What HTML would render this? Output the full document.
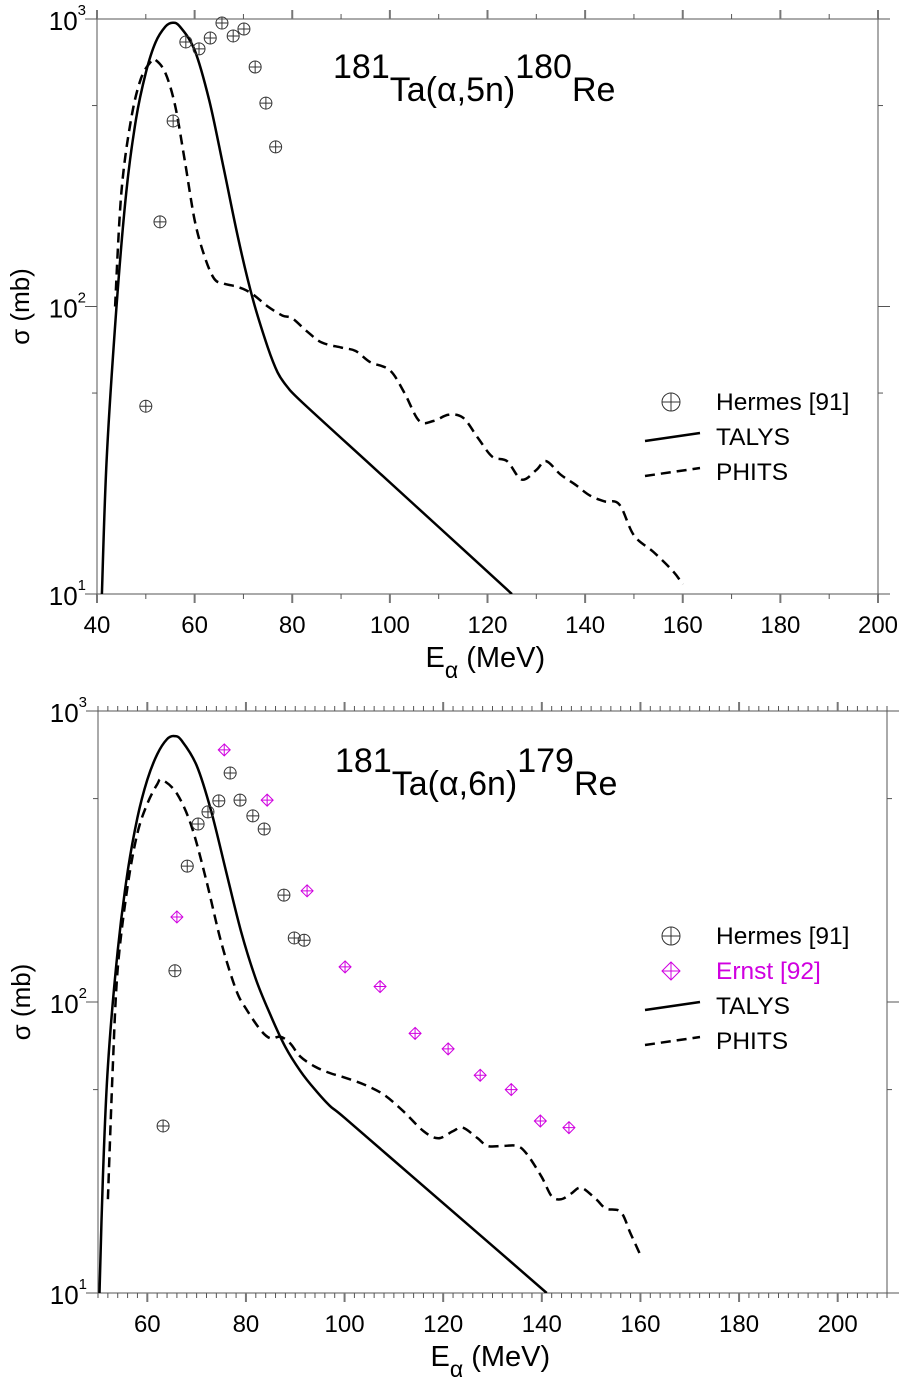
<!DOCTYPE html>
<html><head><meta charset="utf-8"><style>
body{margin:0;background:#fff}
svg text{font-family:"Liberation Sans",sans-serif;fill:#000}
</style></head><body>
<svg id="c" width="900" height="1382" xmlns="http://www.w3.org/2000/svg"></svg>
<script>
// ---- Top panel data: 181Ta(a,5n)180Re ----
const topHermesE=[50.0,52.9,55.6,58.2,60.9,63.2,65.6,67.9,70.1,72.4,74.6,76.6];
const topHermesS=[45,197,442,832,787,859,968,873,923,681,510,359];
const topTalysE=[41,42,44,46,48,50,52,54,55.5,57,60,63,66,69,72,75,77,79,82,95,110,125];
const topTalysS=[10,30,100,250,450,650,830,940,970,940,780,520,300,170,105,72,59,52.5,46.5,29.2,17.1,10];
const topPhitsE=[43.7,45,47,49,51,52,54,56,58,60,62,64,66,68,70,72,75,78,80,83,86,90,93,96,100,103,106,109,112,115,118,121,124,127,130,132,135,138,141,144,147,150,154,158,160];
const topPhitsS=[100,250,450,620,710,720,650,500,320,200,150,125,120,118,115,110,100,93,91,82,75,72,70,64,60,50,40,40,42,41,35,30,29,25,27,29,26,24,22,21,20.5,16,14,12,10.8];
const topXTicks=[40,60,80,100,120,140,160,180,200];
// ---- Bottom panel data: 181Ta(a,6n)179Re ----
const botHermesE=[63.2,65.6,68.1,70.3,72.3,74.5,76.8,78.8,81.4,83.7,87.7,89.8,91.8];
const botHermesS=[37.5,128,293,409,450,491,612,494,436,393,233,166,163];
const botErnstE=[66.0,75.6,84.3,92.4,100.1,107.2,114.3,121.0,127.5,133.8,139.7,145.5];
const botErnstS=[196,735,494,241,132,113,78,69,56,50,39,37];
const botTalysE=[50.3,51,52,54,56,58,60,62,64,65.5,67,70,73,76,79,82,85,88,91,94,97,100,113.67,127.33,141];
const botTalysS=[10,25,60,150,280,430,580,710,800,820,790,650,450,280,175,120,90,70,58,50,44,40,25.2,15.9,10];
const botPhitsE=[52,53,54,56,58,60,62,63,66,69,72,75,78,80,83,85,87,89,91,94,97,100,104,108,112,116,119,122,124,127,129,132,135,137,140,142,144,146,148,151,153,156,158,160];
const botPhitsS=[21,60,130,250,380,480,560,580,520,400,260,160,110,95,80,75,76,72,65,60,57,55,52,48,42,36,34,36,37,34,32,32,32,30,25,21.5,21,22,23,21,19.5,19,16,13.5];
const botXTicks=[60,80,100,120,140,160,180,200];
const yTickExp=[1,2,3];

const NS="http://www.w3.org/2000/svg";
const svg=document.getElementById('c');
function mk(tag,attrs,parent,txt){const e=document.createElementNS(NS,tag);for(const k in attrs)e.setAttribute(k,attrs[k]);if(txt!==undefined)e.textContent=txt;(parent||svg).appendChild(e);return e;}
function smooth(pts){let d='M'+pts[0][0].toFixed(1)+','+pts[0][1].toFixed(1);
 for(let i=0;i<pts.length-1;i++){const p0=pts[i-1]||pts[i],p1=pts[i],p2=pts[i+1],p3=pts[i+2]||p2;
  const c1=[p1[0]+(p2[0]-p0[0])/6,p1[1]+(p2[1]-p0[1])/6],c2=[p2[0]-(p3[0]-p1[0])/6,p2[1]-(p3[1]-p1[1])/6];
  d+=' C'+c1[0].toFixed(1)+','+c1[1].toFixed(1)+' '+c2[0].toFixed(1)+','+c2[1].toFixed(1)+' '+p2[0].toFixed(1)+','+p2[1].toFixed(1);}
 return d;}

function panel(cfg){
 const g=mk('g',{}),L=cfg.L,R=cfg.R,T=cfg.T,B=cfg.B;
 
 const X=e=>L+(e-cfg.x0)/(cfg.x1-cfg.x0)*(R-L);
 const Y=v=>T+(3-Math.log10(v))/2*(B-T);
 const ax='#555';
 const fr=mk('rect',{x:L,y:T,width:R-L,height:B-T,fill:'none',stroke:ax,'stroke-width':1},g);
 
 for(let e=cfg.x0;e<=cfg.x1+0.01;e+=cfg.minor){const x=X(e);const maj=Math.abs(e/20-Math.round(e/20))<1e-6;const len=maj?9:5;
  mk('line',{x1:x,y1:B,x2:x,y2:B+len,stroke:maj?'#777':'#555','stroke-width':maj?2:1},g);
  mk('line',{x1:x,y1:T,x2:x,y2:T-len,stroke:maj?'#777':'#555','stroke-width':maj?2:1},g);}
 cfg.xt.forEach(t=>{const tx=mk('text',{x:X(t),y:B+39,'font-size':24,'text-anchor':'middle'},g,String(t));
  });
 yTickExp.forEach(p=>{const y=Y(Math.pow(10,p));
  mk('line',{x1:L-12,y1:y,x2:L,y2:y,stroke:ax},g);mk('line',{x1:R,y1:y,x2:R+12,y2:y,stroke:ax},g);
  const t=mk('text',{x:L-11,y:y+11,'font-size':26,'text-anchor':'end'},g);
  
  mk('tspan',{},t,'10');mk('tspan',{dy:-15,'font-size':15},t,String(p));
  if(p<3){const y5=Y(5*Math.pow(10,p));mk('line',{x1:L-5,y1:y5,x2:L,y2:y5,stroke:ax},g);mk('line',{x1:R,y1:y5,x2:R+5,y2:y5,stroke:ax},g);}
 });
 const yt=mk('text',{x:0,y:0,'font-size':26,'text-anchor':'middle',transform:`translate(${L-68},${(T+B)/2}) rotate(-90)`},g,'σ (mb)');
 
 const xt=mk('text',{x:(L+R)/2-62,y:B+73,'font-size':29},g);
 
 mk('tspan',{},xt,'E');mk('tspan',{dy:11,'font-size':23},xt,'α');mk('tspan',{dy:-11},xt,' (MeV)');
 const ti=mk('text',{x:cfg.tx,y:cfg.ty,'font-size':34},g);
 
 mk('tspan',{dy:-23},ti,'181');mk('tspan',{dy:23},ti,cfg.mid);mk('tspan',{dy:-23},ti,cfg.prod);mk('tspan',{dy:23},ti,'Re');
 const clip='clip'+cfg.name;const cp=mk('clipPath',{id:clip},g);mk('rect',{x:L,y:T-30,width:R-L,height:B-T+30},cp);
 const tl=mk('path',{d:smooth(cfg.talysE.map((e,i)=>[X(e),Y(cfg.talysS[i])])),fill:'none',stroke:'#000','stroke-width':2.5,'clip-path':`url(#${clip})`},g);
 
 const ph=mk('path',{d:smooth(cfg.phitsE.map((e,i)=>[X(e),Y(cfg.phitsS[i])])),fill:'none',stroke:'#000','stroke-width':2.5,'stroke-dasharray':'10,6','clip-path':`url(#${clip})`},g);
 
 function circ(x,y,r,name){const m=mk('g',{},g);
  mk('circle',{cx:x,cy:y,r:r,fill:'none',stroke:'#333','stroke-width':1},m);
  mk('path',{d:`M${x-r},${y}H${x+r}M${x},${y-r}V${y+r}`,stroke:'#333','stroke-width':1},m);}
 function diam(x,y,r,name){const m=mk('g',{},g);
  mk('path',{d:`M${x},${y-r}L${x+r},${y}L${x},${y+r}L${x-r},${y}Z M${x-r},${y}H${x+r}M${x},${y-r}V${y+r}`,fill:'none',stroke:'#d000e0','stroke-width':1},m);}
 cfg.hE.forEach((e,i)=>circ(X(e),Y(cfg.hS[i]),6,'hermes-point'));
 if(cfg.eE)cfg.eE.forEach((e,i)=>diam(X(e),Y(cfg.eS[i]),6,'ernst-point'));
 let ly=cfg.ly;
 const lg=mk('g',{},g);
 function entry(draw,label,color){const e=mk('g',{},lg);
  draw(ly);mk('text',{x:716,y:ly+8,'font-size':24.5,style:color?'fill:'+color:''},e,label);ly+=35;}
 entry(y=>{circ(671,y,9,'legend-hermes-marker');},'Hermes [91]');
 if(cfg.eE)entry(y=>{diam(671,y,9,'legend-ernst-marker');},'Ernst [92]','#d000e0');
 entry(y=>mk('line',{x1:645,y1:y+4,x2:700,y2:y-4,stroke:'#000','stroke-width':2.5},lg),'TALYS');
 entry(y=>mk('path',{d:`M645,${y+4}L700,${y-4}`,stroke:'#000','stroke-width':2.5,'stroke-dasharray':'10,6',fill:'none'},lg),'PHITS');
}
panel({name:'panel-5n',L:97,R:878,T:19,B:594,x0:40,x1:200,minor:10,xt:topXTicks,tx:333,ty:101,mid:'Ta(α,5n)',prod:'180',
 talysE:topTalysE,talysS:topTalysS,phitsE:topPhitsE,phitsS:topPhitsS,hE:topHermesE,hS:topHermesS,ly:402});
panel({name:'panel-6n',L:98,R:887,T:711,B:1293,x0:50,x1:210,minor:2,xt:botXTicks,tx:335,ty:795,mid:'Ta(α,6n)',prod:'179',
 talysE:botTalysE,talysS:botTalysS,phitsE:botPhitsE,phitsS:botPhitsS,hE:botHermesE,hS:botHermesS,eE:botErnstE,eS:botErnstS,ly:936});
</script>
</body></html>
